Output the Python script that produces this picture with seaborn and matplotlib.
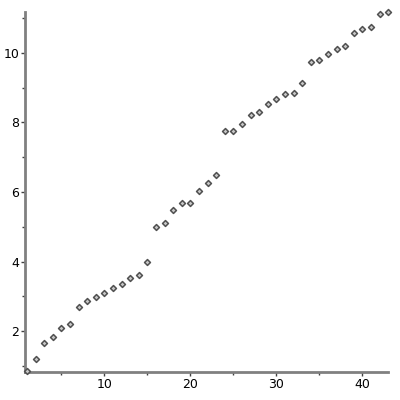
import matplotlib
matplotlib.use("Agg")
import matplotlib.pyplot as plt
import seaborn as sns
import pandas as pd
from matplotlib.ticker import MultipleLocator

# values
x_vals = list(range(1, 44))
y_vals = [0.86, 1.20, 1.66, 1.83, 2.09, 2.20, 2.69, 2.88, 2.97, 3.11,
          3.23, 3.37, 3.52, 3.63, 3.98, 5.00, 5.12, 5.49, 5.68, 5.68,
          6.02, 6.26, 6.48, 7.74, 7.74, 7.94, 8.22, 8.31, 8.54, 8.68,
          8.81, 8.85, 9.14, 9.74, 9.78, 9.97, 10.11, 10.20, 10.58, 10.67,
          10.73, 11.12, 11.17]
x_ticks = [10, 20, 30, 40]
y_ticks = [2, 4, 6, 8, 10]

df = pd.DataFrame({"x": x_vals, "y": y_vals})

sns.set_style("ticks")
fig = plt.figure(figsize=(4, 4), dpi=100)
ax = fig.add_axes([0.0625, 0.07, 0.908, 0.90])

sns.scatterplot(data=df, x="x", y="y", ax=ax, marker="D", s=9,
                facecolor="#c8c8c8", edgecolor="#505050", linewidth=1.1,
                clip_on=False, zorder=3)

ax.set_xlim(0.77, 43.0)
ax.set_ylim(0.83, 11.17)
ax.set_xticks(x_ticks)
ax.set_yticks(y_ticks)
ax.xaxis.set_minor_locator(MultipleLocator(5))
ax.yaxis.set_minor_locator(MultipleLocator(1))
ax.set_xlabel("")
ax.set_ylabel("")

for side in ["top", "right"]:
    ax.spines[side].set_visible(False)
for side in ["left", "bottom"]:
    ax.spines[side].set_color("#808080")
    ax.spines[side].set_linewidth(2)

ax.tick_params(which="major", length=3, width=1, color="#404040",
               labelsize=9, pad=1, labelcolor="black")
ax.tick_params(which="minor", length=2, width=1, color="#404040")

fig.savefig("out.png", dpi=100)
